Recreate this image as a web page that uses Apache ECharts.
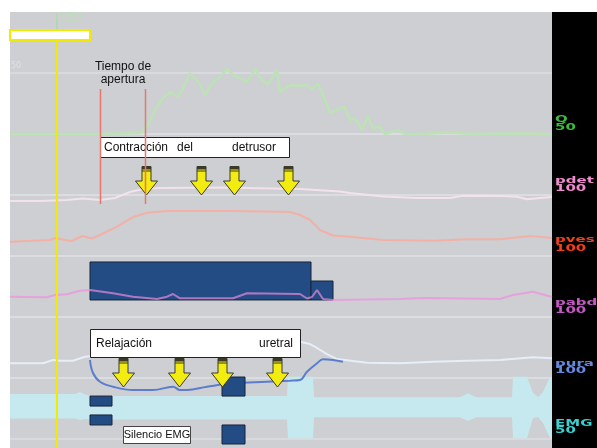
<!DOCTYPE html>
<html>
<head>
<meta charset="utf-8">
<script src="https://cdn.jsdelivr.net/npm/echarts@6/dist/echarts.min.js"></script>
<style>
  html, body { margin: 0; padding: 0; background: #ffffff; }
  #chart { width: 597px; height: 448px; }
</style>
</head>
<body>
<div id="chart"></div>
<script>
// ---- Urodynamic traces, time in seconds ----
const TIME_MAX = 271;

// Flow Q (ml/s), full scale 50
const qFlow = [[0,0],[45,0],[65,0.8],[69,7.4],[72.5,19.7],[76.5,29.5],[80,34.4],[84,30.3],[86.5,37.7],[90,50],[95,41],[97.5,32],[101,41.8],[105,46.7],[108.5,53.3],[111.5,48.4],[115,45.9],[118.5,42.6],[122.5,53.3],[126,44.3],[129,40.2],[133.5,52.5],[135,34.4],[137.5,37.7],[141,40.2],[145,39.3],[148.5,40.2],[151,36.9],[154,41],[156.5,32],[160,17.2],[165,21.3],[167.5,22.1],[170,11.5],[172.5,13.1],[176,3.3],[179,14.8],[181.5,4.9],[185,5.7],[187.5,0],[194,3.3],[197.5,0],[205,0],[220,1.2],[230,0],[255,0.4],[271,0]];

// Detrusor pressure pdet (cmH2O), full scale 100
const pdet = [[0,-9.8],[15,-9.8],[28.5,-8.2],[36.5,-5.7],[45,-8.2],[52.5,-4.9],[60,4.9],[66.5,9.8],[75,11.5],[105,12.3],[145,9.8],[165,5.7],[170,3.3],[186.5,-2.5],[203.5,-4.9],[220,-4.9],[226.5,-1.1],[245,-1.6],[253.5,-2.8],[258.5,-7],[265,-4.9],[271,-3.3]];

// Vesical pressure pves (cmH2O), full scale 100
const pves = [[0,23.4],[20,26.2],[22.5,29.5],[27.5,26.2],[31,24.6],[36,32.8],[41,28.7],[45,34.4],[53.5,48],[61.5,63.9],[68.5,71],[78.5,73.8],[111.5,73.8],[140,72.1],[145,67.2],[150,59],[155,42.6],[161.5,33.6],[170,31.6],[186.5,26.2],[211.5,25.1],[228.5,27.4],[245,27.4],[260,32.8],[271,29.5]];

// Abdominal pressure pabd (cmH2O), full scale 100
const pabd = [[0,33.3],[18.5,32.3],[22.5,36.1],[28.5,37.2],[35,43.1],[40,44.3],[51.5,38.9],[61.5,33.3],[73.5,29.5],[78.5,33.3],[81.5,37.7],[85,30.7],[111.5,30.7],[118.5,38.9],[145,37.7],[148.5,30.3],[151,32.8],[153.5,44.3],[156.5,29.5],[161.5,27.9],[195,29.5],[206.5,31.1],[245,29.5],[251.5,36.1],[261.5,41.5],[271,32.8]];

// Urethral pressure pura (cmH2O), full scale 100
const pura = [[0,24.1],[16.5,24.1],[21.5,29.5],[25,28.4],[31.5,28.4],[37.5,34.9],[41,36.1],[55,54.1],[140,60.7],[145,59.5],[150,55.7],[153.5,49.2],[158.5,39.3],[163.5,31.1],[178.5,25.1],[195,24.1],[211.5,26.7],[228.5,28.4],[245,29.5],[261.5,33.9],[271,32.3]];
// Urethral relaxation profile
const puraRelax = [[40,29.5],[41.5,8.2],[45,-6.1],[51.5,-14.3],[61.5,-19.7],[71.5,-19.7],[81.5,-14.3],[85,-19.7],[88.5,-19.7],[98.5,-14.3],[111.5,-8.7],[128.5,-6.1],[140,-4.4],[145,-3.3],[148.5,10.3],[153.5,24.1],[156.5,30.7],[161.5,29.5],[166.5,26.7]];

// EMG envelope (µV), full scale 50
const emgTime  = [0, 32.5, 35, 37.5, 40, 138.5, 139, 151.5, 152, 225, 229, 233, 251, 251.5, 258.5, 261.5, 264, 266.5, 270, 271];
const emgUpper = [11.9, 11.9, 13.5, 11.5, 10.2, 10.2, 26.1, 26.1, 9.2, 9.2, 12.5, 9.2, 9.2, 26.1, 26.1, 12.7, 9.4, 13.5, 26.1, 26.1];
const emgLower = [-8.2, -8.2, -9.4, -8.6, -9, -9, -24.4, -24.4, -7.2, -7.2, -10.2, -7.2, -7.2, -24.4, -24.4, -7.8, -7, -11.9, -24.4, -24.4];

// Highlighted blocks [tStart, tEnd, vLow, vHigh]
const pabdBlocks = [[40, 150.5, 27.9, 90.2], [150.5, 161.5, 27.9, 59]];
const emgBlocks = [[40, 51, 2.0, 10.2], [40, 51, -13.5, -5.3], [106, 117.5, 10.2, 25.8], [106, 117.5, -29.1, -13.5]];

// Arrow anchors [time, value at arrow top]
const detrusorArrows = [[68, 47.5], [95.5, 47.5], [112, 47.5], [139, 47.5]];
const urethralArrows = [[56.5, 32.8], [84.5, 32.8], [106, 32.8], [133.5, 32.8]];

// Event times
const cursorTime = 23.5;
const openingTimes = [45, 67.5];

// Channel scales and names
const channelNames = ['Q', 'pdet', 'pves', 'pabd', 'pura', 'EMG'];
const channelScales = ['50', '100', '100', '100', '100', '50'];
const channelRanges = [[0, 50], [0, 100], [0, 100], [0, 100], [0, 100], [-25, 25]];

// ---- Chart ----
const chart = echarts.init(document.getElementById('chart'), null, { renderer: 'canvas' });

const bandTops = [73, 134, 195, 256, 317, 378];
const grid = bandTops.map(t => ({ left: 10, width: 542, top: t, height: 61 }));
const xAxis = bandTops.map((t, i) => ({ gridIndex: i, type: 'value', min: 0, max: TIME_MAX, show: false }));
const yAxis = channelRanges.map((r, i) => ({
  gridIndex: i, type: 'value', min: r[0], max: r[1], interval: r[1] - r[0],
  axisLine: { show: false }, axisTick: { show: false }, axisLabel: { show: false },
  splitLine: { show: true, lineStyle: { color: '#dcdee1', width: 1.5 } }
}));

function trace(data, idx, color, width, z, extra) {
  return Object.assign({
    type: 'line', data, xAxisIndex: idx, yAxisIndex: idx, showSymbol: false, symbol: 'none',
    clip: false, z, silent: true, animation: false,
    lineStyle: { color, width }
  }, extra || {});
}

function blockItem(params, api) {
  const a = api.coord([api.value(0), api.value(3)]);
  const b = api.coord([api.value(1), api.value(2)]);
  return {
    type: 'rect',
    shape: { x: a[0], y: a[1], width: b[0] - a[0], height: b[1] - a[1] },
    style: { fill: '#244c84', stroke: '#17243a', lineWidth: 1 }
  };
}

function arrowItem(params, api) {
  const p = api.coord([api.value(0), api.value(1)]);
  const x = Math.round(p[0]) + 0.5, y = Math.round(p[1]) + 0.5;
  const hw = 11, sw = 4.5, sh = 14.5, h = 28.5;
  return {
    type: 'group',
    children: [
      { type: 'polygon',
        shape: { points: [[x - sw, y], [x + sw, y], [x + sw, y + sh], [x + hw, y + sh], [x, y + h], [x - hw, y + sh], [x - sw, y + sh]] },
        style: { fill: '#f3ec10', stroke: '#3b3a2c', lineWidth: 1 } },
      { type: 'rect', shape: { x: x - sw, y: y, width: 2 * sw, height: 3 }, style: { fill: '#3b3a22' } },
      { type: 'rect', shape: { x: x - sw, y: y + 4, width: 2 * sw, height: 1 }, style: { fill: '#3b3a22' } }
    ]
  };
}

const series = [
  // EMG envelope
  {
    type: 'custom', xAxisIndex: 5, yAxisIndex: 5, data: [[0, 0]], z: 2, clip: false, silent: true, animation: false,
    renderItem: (params, api) => {
      const up = emgTime.map((t, i) => api.coord([t, emgUpper[i]]));
      const lo = emgTime.map((t, i) => api.coord([t, emgLower[i]])).reverse();
      return { type: 'polygon', shape: { points: up.concat(lo) }, style: { fill: '#c6e9f0' } };
    }
  },
  trace(qFlow, 0, '#bde2b6', 2.5, 3),
  trace(pdet, 1, '#f4e2ea', 2, 3),
  trace(pves, 2, '#f3b0a7', 2, 3),
  trace(pura, 4, '#e6eef7', 2, 3),
  trace(puraRelax, 4, '#5a7ecd', 2, 4, { smooth: 0.4 }),
  { type: 'custom', xAxisIndex: 3, yAxisIndex: 3, data: pabdBlocks, encode: { x: [0, 1], y: [2, 3] }, z: 5, silent: true, animation: false, renderItem: blockItem },
  { type: 'custom', xAxisIndex: 5, yAxisIndex: 5, data: emgBlocks, encode: { x: [0, 1], y: [2, 3] }, z: 5, clip: false, silent: true, animation: false, renderItem: blockItem },
  trace(pabd, 3, 'rgba(240,140,224,0.68)', 2, 6),
  { type: 'custom', xAxisIndex: 1, yAxisIndex: 1, data: detrusorArrows, z: 8, clip: false, silent: true, animation: false, renderItem: arrowItem },
  { type: 'custom', xAxisIndex: 4, yAxisIndex: 4, data: urethralArrows, z: 8, clip: false, silent: true, animation: false, renderItem: arrowItem }
];

chart.setOption({
  backgroundColor: '#ffffff',
  animation: false,
  grid, xAxis, yAxis, series
});

// ---- Annotations ----
const tx = t => chart.convertToPixel({ gridIndex: 0 }, [t, 0])[0];
const textFont = '12px "Liberation Sans", Arial, sans-serif';
const labelColors = ['#3cbc3c', '#ee8ccf', '#f0401c', '#c459c4', '#6689e0', '#3ecfcf'];
const labelCenters = [[120, 127.6], [181, 188.5], [240, 248.8], [302.8, 310.3], [363.3, 371], [423.4, 431]];

const graphic = [
  // panels
  { type: 'rect', z: -10, shape: { x: 0, y: 0, width: 597, height: 448 }, style: { fill: '#ffffff' } },
  { type: 'rect', z: -9, shape: { x: 10, y: 12, width: 542, height: 436 }, style: { fill: '#cdcfd2' } },
  { type: 'rect', z: -9, shape: { x: 552, y: 12, width: 45, height: 436 }, style: { fill: '#000000' } },
  // faint scale hint
  { type: 'text', z: 1, x: 11, y: 66, style: { text: '50', font: '8px "DejaVu Sans"', fill: '#dfe1e3', verticalAlign: 'middle' } },
  // cursor marker
  { type: 'line', z: 20, shape: { x1: tx(cursorTime), y1: 13, x2: tx(cursorTime), y2: 30 }, style: { stroke: '#a9d8a2', lineWidth: 1.5 } },
  { type: 'rect', z: 20, shape: { x: tx(cursorTime), y: 13, width: 24, height: 7 }, style: { fill: 'none', stroke: '#b9dfb3', lineWidth: 1 } },
  { type: 'text', z: 20, x: tx(cursorTime) + 12, y: 16.5, style: { text: '5000', font: '7px "DejaVu Sans"', fill: '#b9dfb3', align: 'center', verticalAlign: 'middle' } },
  { type: 'line', z: 20, shape: { x1: tx(cursorTime), y1: 40, x2: tx(cursorTime), y2: 448 }, style: { stroke: '#f2ea00', lineWidth: 2 } },
  { type: 'rect', z: 20, shape: { x: 10, y: 30, width: tx(40) - 10, height: 10 }, style: { fill: '#ffffff', stroke: '#f2ea00', lineWidth: 2 } },
  // opening time
  { type: 'text', z: 30, x: 123, y: 67, style: { text: 'Tiempo de', font: textFont, fill: '#111', align: 'center', verticalAlign: 'middle' } },
  { type: 'text', z: 30, x: 123, y: 80, style: { text: 'apertura', font: textFont, fill: '#111', align: 'center', verticalAlign: 'middle' } },
  // detrusor contraction box
  { type: 'rect', z: 30, shape: { x: tx(45) + 0.5, y: 137.5, width: 189, height: 20 }, style: { fill: '#ffffff', stroke: '#222', lineWidth: 1 } },
  { type: 'text', z: 31, x: 104, y: 147.5, style: { text: 'Contracción', font: textFont, fill: '#111', verticalAlign: 'middle' } },
  { type: 'text', z: 31, x: 177, y: 147.5, style: { text: 'del', font: textFont, fill: '#111', verticalAlign: 'middle' } },
  { type: 'text', z: 31, x: 232, y: 147.5, style: { text: 'detrusor', font: textFont, fill: '#111', verticalAlign: 'middle' } },
  // urethral relaxation box
  { type: 'rect', z: 30, shape: { x: tx(40) + 0.5, y: 329.5, width: 210, height: 28 }, style: { fill: '#ffffff', stroke: '#222', lineWidth: 1 } },
  { type: 'text', z: 31, x: 96, y: 343.5, style: { text: 'Relajación', font: textFont, fill: '#111', verticalAlign: 'middle' } },
  { type: 'text', z: 31, x: 293, y: 343.5, style: { text: 'uretral', font: textFont, fill: '#111', align: 'right', verticalAlign: 'middle' } },
  // EMG silence box
  { type: 'rect', z: 30, shape: { x: 123.5, y: 426.5, width: 67, height: 17 }, style: { fill: '#ffffff', stroke: '#444', lineWidth: 1 } },
  { type: 'text', z: 31, x: 157, y: 435, style: { text: 'Silencio EMG', font: '11px "Liberation Sans Narrow", "Liberation Sans", Arial, sans-serif', fill: '#111', align: 'center', verticalAlign: 'middle' } }
];

openingTimes.forEach(t => {
  const x = Math.round(tx(t)) + 0.5;
  graphic.push({ type: 'line', z: 40, shape: { x1: x, y1: 89, x2: x, y2: 204 }, style: { stroke: '#e8766c', lineWidth: 1.5 } });
});

channelNames.forEach((name, i) => {
  const font = 'bold 10px "DejaVu Sans", sans-serif';
  graphic.push({ type: 'text', z: 50, x: 555, y: labelCenters[i][0], scaleX: 1.5, scaleY: 0.92, style: { text: name, font, fill: labelColors[i], verticalAlign: 'middle' } });
  graphic.push({ type: 'text', z: 50, x: 555, y: labelCenters[i][1], scaleX: 1.5, scaleY: 0.92, style: { text: channelScales[i], font, fill: labelColors[i], verticalAlign: 'middle' } });
});

chart.setOption({ graphic });
</script>
</body>
</html>
